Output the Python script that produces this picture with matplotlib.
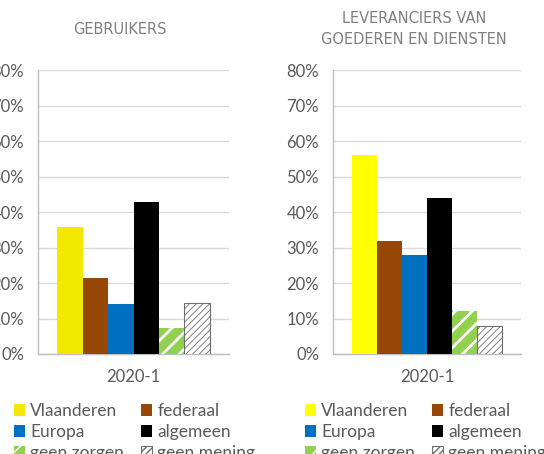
import matplotlib
import matplotlib.pyplot as plt
from matplotlib.patches import Patch
from matplotlib.ticker import PercentFormatter

matplotlib.use("Agg")

plt.rcParams["font.family"] = ["Lato", "DejaVu Sans"]
plt.rcParams["hatch.linewidth"] = 1.0

TEXT_COLOR = "#595959"
TITLE_COLOR = "#7F7F7F"
GRID_COLOR = "#D9D9D9"

CATEGORY = "2020-1"
SERIES = ["Vlaanderen", "federaal", "Europa", "algemeen", "geen zorgen", "geen mening"]
GEBRUIKERS = [35.8, 21.4, 14.2, 42.8, 7.3, 14.4]
LEVERANCIERS = [56.1, 31.8, 27.9, 43.9, 12.1, 7.9]
TITLES = ["GEBRUIKERS", "LEVERANCIERS VAN\nGOEDEREN EN DIENSTEN"]
YTICKS = [0, 10, 20, 30, 40, 50, 60, 70, 80]

W, H = 544, 454


def bar_styles(yellow):
    return [
        dict(color=yellow, linewidth=0),
        dict(color="#974706", linewidth=0),
        dict(color="#0070C0", linewidth=0),
        dict(color="#000000", linewidth=0),
        dict(facecolor="#92D050", edgecolor="white", hatch="//", linewidth=0),
        dict(facecolor="white", edgecolor="#6F6F6F", hatch="/////", linewidth=0.8),
    ]


HATCH_WIDTHS = [None, None, None, None, 2.0, 0.6]


def set_hatch_width(patch, i):
    lw = HATCH_WIDTHS[i]
    if lw is None:
        return
    if hasattr(patch, "set_hatch_linewidth"):
        patch.set_hatch_linewidth(lw)
    else:
        patch._hatch_linewidth = lw


def px_axes(fig, x0, x1, ytop, ybot):
    return fig.add_axes([x0 / W, (H - ybot) / H, (x1 - x0) / W, (ybot - ytop) / H])


def draw_panel(ax, values, yellow):
    width = 0.133
    styles = bar_styles(yellow)
    offset = (len(values) - 1) / 2
    handles = []
    for i, (name, val) in enumerate(zip(SERIES, values)):
        bars = ax.bar((i - offset) * width, val, width=width, zorder=3, **styles[i])
        for b in bars:
            set_hatch_width(b, i)
        h = Patch(label=name, **styles[i])
        set_hatch_width(h, i)
        handles.append(h)

    ax.set_xlim(-0.5, 0.5)
    ax.set_ylim(0, 80)
    ax.set_yticks(YTICKS)
    ax.yaxis.set_major_formatter(PercentFormatter(decimals=0))
    ax.set_xticks([0])
    ax.set_xticklabels([CATEGORY])
    ax.tick_params(axis="both", length=0, labelsize=12, labelcolor=TEXT_COLOR)
    ax.tick_params(axis="y", pad=10)
    ax.tick_params(axis="x", pad=11)
    ax.grid(axis="y", color=GRID_COLOR, linewidth=1, zorder=0)
    for side in ["top", "right"]:
        ax.spines[side].set_visible(False)
    for side in ["left", "bottom"]:
        ax.spines[side].set_color("#BFBFBF")
        ax.spines[side].set_linewidth(1)
    return handles


fig = plt.figure(figsize=(W / 100, H / 100), dpi=100)

ax_left = px_axes(fig, 38, 229, 70, 354)
ax_right = px_axes(fig, 333, 521, 70, 354)

handles_left = draw_panel(ax_left, GEBRUIKERS, "#F3E800")
handles_right = draw_panel(ax_right, LEVERANCIERS, "#FFFF00")

# titles centred on the same line, Excel style
for title, xc in [(TITLES[0], 120), (TITLES[1], 414)]:
    fig.text(xc / W, (H - 29) / H, title, ha="center", va="center",
             fontsize=10.5, color=TITLE_COLOR, family="DejaVu Sans",
             linespacing=1.45)

order = [0, 2, 4, 1, 3, 5]
for handles, x in [(handles_left, 7), (handles_right, 298)]:
    fig.legend(
        [handles[i] for i in order],
        [SERIES[i] for i in order],
        ncol=2,
        loc="upper left",
        bbox_to_anchor=(x / W, (H - 396) / H),
        frameon=False,
        fontsize=12.5,
        labelcolor=TEXT_COLOR,
        handlelength=0.65,
        handleheight=0.65,
        handletextpad=0.3,
        columnspacing=0.95,
        labelspacing=0.3,
        borderaxespad=0,
    )

fig.savefig("out.png", dpi=100)
